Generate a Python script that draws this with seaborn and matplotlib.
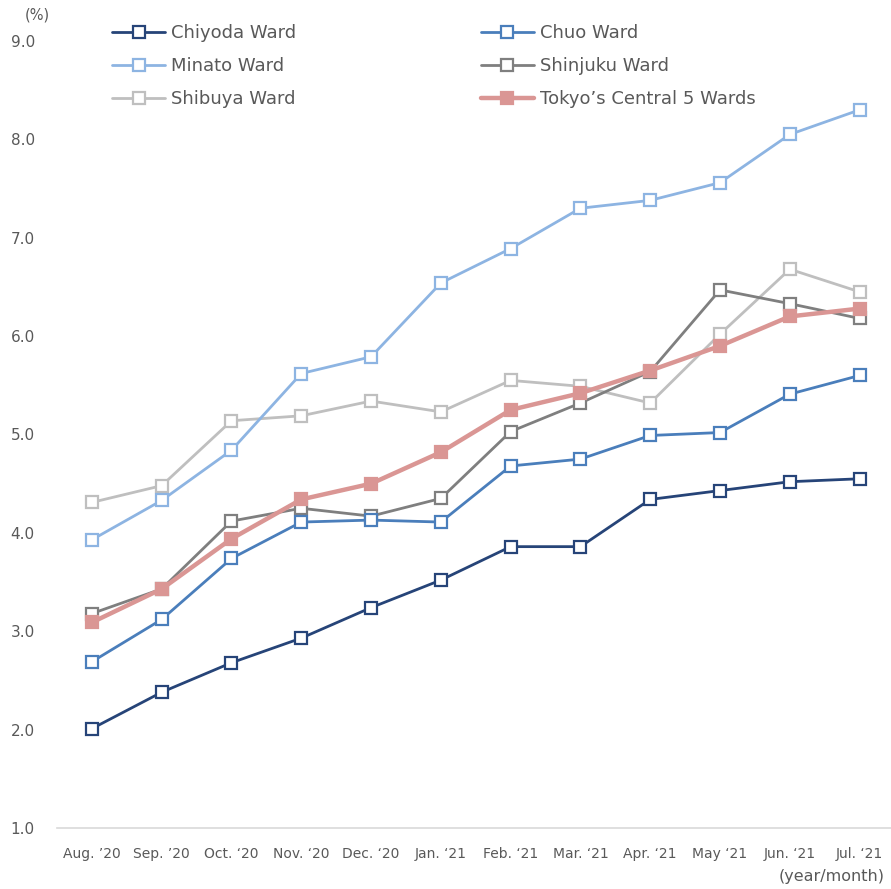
import numpy as np
import seaborn as sns
import matplotlib.pyplot as plt

months = ["Aug. \u201920", "Sep. \u201920", "Oct. \u201820", "Nov. \u201820", "Dec. \u201820",
          "Jan. \u201821", "Feb. \u201821", "Mar. \u201821", "Apr. \u201821", "May \u201821",
          "Jun. \u201821", "Jul. \u201821"]

chiyoda = [2.01, 2.38, 2.68, 2.93, 3.24, 3.52, 3.86, 3.86, 4.34, 4.43, 4.52, 4.55]
chuo = [2.69, 3.12, 3.74, 4.11, 4.13, 4.11, 4.68, 4.75, 4.99, 5.02, 5.41, 5.60]
minato = [3.93, 4.33, 4.84, 5.62, 5.79, 6.54, 6.89, 7.30, 7.38, 7.56, 8.05, 8.30]
shinjuku = [3.18, 3.43, 4.12, 4.25, 4.17, 4.35, 5.03, 5.32, 5.64, 6.47, 6.33, 6.18]
shibuya = [4.31, 4.48, 5.14, 5.19, 5.34, 5.23, 5.55, 5.49, 5.32, 6.02, 6.68, 6.45]
central5 = [3.09, 3.43, 3.94, 4.34, 4.50, 4.82, 5.25, 5.42, 5.65, 5.90, 6.20, 6.28]

sns.set_style("white")
plt.rcParams['font.family'] = ['DejaVu Sans']

fig = plt.figure(figsize=(8.91, 8.89), dpi=100)
ax = fig.add_axes([57 / 891, 61 / 889, 1 - 57 / 891, (828 - 41) / 889])

x = np.arange(len(months))
series = [
    ("Chiyoda Ward", chiyoda, "#264478", False),
    ("Minato Ward", minato, "#8DB4E2", False),
    ("Shibuya Ward", shibuya, "#BFBFBF", False),
    ("Chuo Ward", chuo, "#4A7EBB", False),
    ("Shinjuku Ward", shinjuku, "#7F7F7F", False),
    ("Tokyo\u2019s Central 5 Wards", central5, "#DA9694", True),
]

# draw in plotting order so that the central-5 line is on top
draw_order = [2, 1, 4, 3, 0, 5]
for i in draw_order:
    name, vals, col, filled = series[i]
    sns.lineplot(x=x, y=vals, ax=ax, color=col, label=name,
                 linewidth=3.2 if filled else 2.0,
                 marker="s", markersize=9 if filled else 8.5,
                 markerfacecolor=col if filled else "white",
                 markeredgecolor=col, markeredgewidth=1.6,
                 legend=False)

ax.set_xlim(-0.5, 11.45)
ax.set_ylim(1.0, 9.0)
ax.set_yticks(np.arange(1.0, 9.01, 1.0))
ax.set_yticklabels([f"{v:.1f}" for v in np.arange(1.0, 9.01, 1.0)])
ax.set_xticks(x)
ax.set_xticklabels(months)
ax.tick_params(axis="y", length=0, pad=16, labelsize=11, labelcolor="#595959")
ax.tick_params(axis="x", length=0, pad=14, labelsize=10, labelcolor="#595959")

for s in ["top", "right", "left"]:
    ax.spines[s].set_visible(False)
ax.spines["bottom"].set_color("#D9D9D9")
ax.spines["bottom"].set_linewidth(1.2)
ax.set_xlabel("")
ax.set_ylabel("")

handles = {}
for line in ax.get_lines():
    handles[line.get_label()] = line
order = [s[0] for s in series]
fig.legend([handles[n] for n in order], order, ncol=2,
           loc="upper left", bbox_to_anchor=(105 / 891, 1 - 17 / 889),
           frameon=False, fontsize=13, labelcolor="#595959",
           handlelength=2.95, handletextpad=0.33, columnspacing=10.2,
           labelspacing=0.83, borderaxespad=0)

fig.text(25 / 891, 1 - 15 / 889, "(%)", fontsize=10.5, color="#595959",
         ha="left", va="center")
fig.text(885 / 891, 1 - 877 / 889, "(year/month)", fontsize=11.5, color="#595959",
         ha="right", va="center")

fig.savefig("out.png", dpi=100)
